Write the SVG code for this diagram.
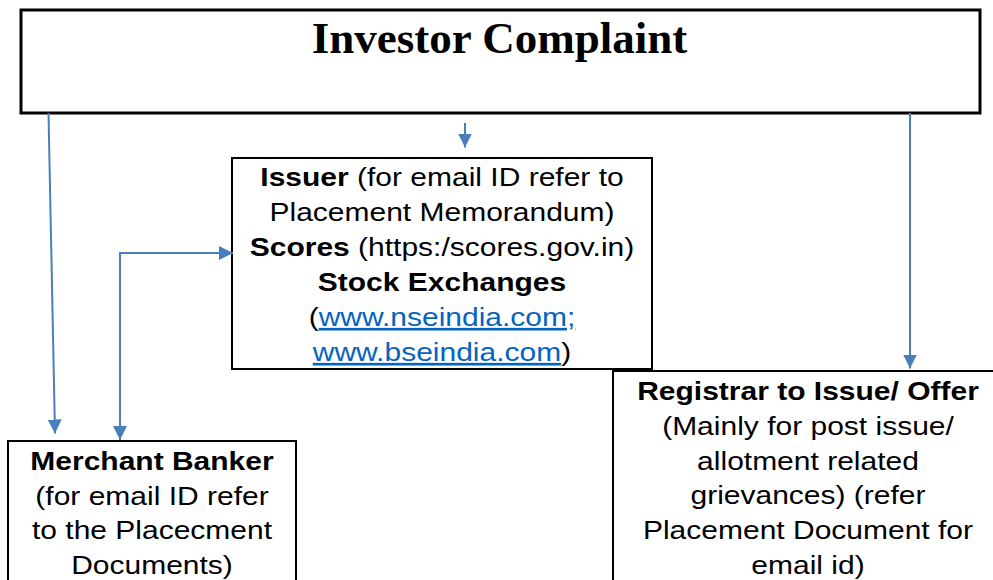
<svg xmlns="http://www.w3.org/2000/svg" width="993" height="580" viewBox="0 0 993 580">
  <style>
    .box { fill: #ffffff; stroke: #000000; stroke-width: 2; }
    .t { font-family: "Liberation Sans", Arial, sans-serif; font-size: 30px; fill: #000000; text-anchor: middle; }
    .b { font-weight: bold; }
    .lnk { fill: #0563C1; text-decoration: underline; }
    .title { font-family: "Liberation Serif", "Times New Roman", serif; font-size: 45px; font-weight: bold; fill: #000000; text-anchor: middle; }
    .c { fill: none; stroke: #4A7EBB; stroke-width: 2; }
  </style>
  <defs>
    <marker id="ah" viewBox="0 0 14 14" refX="14" refY="7" markerWidth="14" markerHeight="14" markerUnits="userSpaceOnUse" orient="auto-start-reverse">
      <path d="M0,0 L14,7 L0,14 Z" fill="#4A7EBB"/>
    </marker>
  </defs>
  <rect width="993" height="580" fill="#ffffff"/>

  <g id="investor-complaint">
    <rect class="box" x="21" y="10" width="959" height="103" style="stroke-width:3"/>
    <text class="title" x="499.5" y="53">Investor Complaint</text>
  </g>

  <g id="issuer">
    <rect class="box" x="232" y="158" width="420" height="211"/>
    <text class="t" x="442" y="186" transform="matrix(1 0 0 0.88 0 22.32)"><tspan class="b">Issuer</tspan> (for email ID refer to</text>
    <text class="t" x="442" y="221" transform="matrix(1 0 0 0.88 0 26.52)">Placement Memorandum)</text>
    <text class="t" x="442" y="256" transform="matrix(1 0 0 0.88 0 30.72)"><tspan class="b">Scores</tspan> (https:/scores.gov.in)</text>
    <text class="t b" x="442" y="291" transform="matrix(1 0 0 0.88 0 34.92)">Stock Exchanges</text>
    <text class="t" x="442" y="326" transform="matrix(1 0 0 0.88 0 39.12)">(<tspan class="lnk">www.nseindia.com;</tspan></text>
    <text class="t" x="442" y="361" transform="matrix(1 0 0 0.88 0 43.32)"><tspan class="lnk">www.bseindia.com</tspan>)</text>
  </g>

  <g id="merchant-banker">
    <rect class="box" x="8" y="441" width="288" height="150"/>
    <text class="t b" x="152" y="470" transform="matrix(1 0 0 0.88 0 56.4)">Merchant Banker</text>
    <text class="t" x="152" y="505" transform="matrix(1 0 0 0.88 0 60.6)">(for email ID refer</text>
    <text class="t" x="152" y="539" transform="matrix(1 0 0 0.88 0 64.68)">to the Placecment</text>
    <text class="t" x="152" y="574" transform="matrix(1 0 0 0.88 0 68.88)">Documents)</text>
  </g>

  <g id="registrar">
    <rect class="box" x="613" y="371" width="400" height="220"/>
    <text class="t b" x="808" y="400" transform="matrix(1 0 0 0.88 0 48)">Registrar to Issue/ Offer</text>
    <text class="t" x="808" y="435" transform="matrix(1 0 0 0.88 0 52.2)">(Mainly for post issue/</text>
    <text class="t" x="808" y="470" transform="matrix(1 0 0 0.88 0 56.4)">allotment related</text>
    <text class="t" x="808" y="504" transform="matrix(1 0 0 0.88 0 60.48)">grievances) (refer</text>
    <text class="t" x="808" y="539" transform="matrix(1 0 0 0.88 0 64.68)">Placement Document for</text>
    <text class="t" x="808" y="574" transform="matrix(1 0 0 0.88 0 68.88)">email id)</text>
  </g>

  <g id="connectors">
    <line class="c" x1="465" y1="123" x2="465" y2="147.5" marker-end="url(#ah)"/>
    <line class="c" x1="48.5" y1="113" x2="55" y2="433.5" marker-end="url(#ah)"/>
    <polyline class="c" points="120,440 120,253 233,253" marker-start="url(#ah)" marker-end="url(#ah)"/>
    <line class="c" x1="910" y1="113" x2="910" y2="368.5" marker-end="url(#ah)"/>
  </g>
</svg>
